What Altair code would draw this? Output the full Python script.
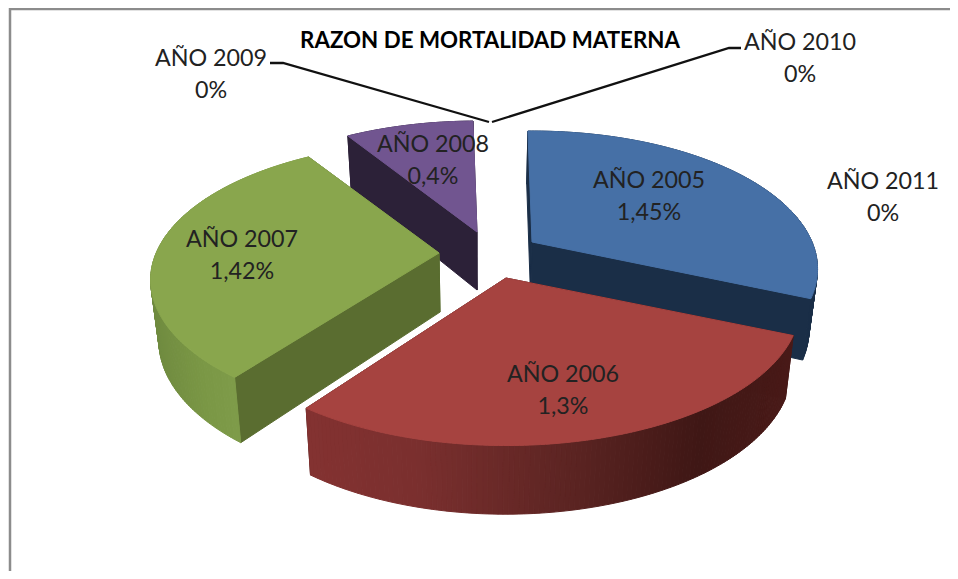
import math
import altair as alt
import pandas as pd

# ---- chart values -------------------------------------------------
years = ["AÑO 2005", "AÑO 2006", "AÑO 2007", "AÑO 2008", "AÑO 2009", "AÑO 2010", "AÑO 2011"]
values = [1.45, 1.3, 1.42, 0.4, 0, 0, 0]
value_labels = ["1,45%", "1,3%", "1,42%", "0,4%", "0%", "0%", "0%"]
title_text = "RAZON DE MORTALIDAD MATERNA"

# ---- layout and style (page pixels) -------------------------------
W, H = 942, 563
OFF = 8
apexes = {0: (532, 242), 1: (506, 278), 2: (439, 253), 3: (477, 232)}
scale_x = {0: 1.0, 1: 1.03, 2: 1.01, 3: 1.0}
scale_y = {0: 1.0, 1: 1.015, 2: 1.0, 3: 1.0}
edge_shift = {0: (0, 0), 1: (0, 0), 2: (2, 0), 3: (0, 0)}
top_col = {0: "#4670a6", 1: "#a64340", 2: "#89a64d", 3: "#715590"}
wall_col = {0: "#1a2e47", 1: "#471a18", 2: "#5a6d30", 3: "#2c2138"}
rim_stops = {
    0: [(700, "#1a2e47"), (830, "#1a2e47")],
    1: [(300, "#843231"), (420, "#7a2f2e"), (560, "#5e2523"), (700, "#3f1715"), (800, "#4a1a18")],
    2: [(150, "#6f8a3f"), (200, "#7a9745"), (240, "#7f9c4a")],
    3: [(340, "#2c2138"), (480, "#2c2138")],
}
label_pos = [(649, 181), (563, 375), (242, 240), (433, 145), (211, 59), (800, 43), (883, 182)]
LINE_GAP = 32
RX, RA, K = 280, 132.7, 0.196
VX, M = 480, 0.975
START = -1.0


def top_point(i, deg):
    ax, ay = apexes[i]
    t = math.radians(deg)
    X, Y = math.sin(t), -math.cos(t)
    s = 1 / (1 - K * Y)
    return (ax + RX * scale_x[i] * X * s, ay + RA * scale_y[i] * Y * s)


def lower(p):
    d = 58 + (p[1] - 232) * 0.05
    return (VX + (p[0] - VX) * M, p[1] + d)


def mix(stops, x):
    def rgb(c):
        return [int(c[j:j + 2], 16) for j in (1, 3, 5)]
    if x <= stops[0][0]:
        return stops[0][1]
    for (x0, c0), (x1, c1) in zip(stops, stops[1:]):
        if x <= x1:
            f = (x - x0) / (x1 - x0)
            a, b = rgb(c0), rgb(c1)
            return "#%02x%02x%02x" % tuple(round(u + (v - u) * f) for u, v in zip(a, b))
    return stops[-1][1]


def feature(points, fill):
    pts = [[p[0] - OFF, p[1] - OFF] for p in points]
    pts.append(pts[0])
    return {"type": "Feature", "properties": {"fill": fill},
            "geometry": {"type": "Polygon", "coordinates": [pts]}}


total = sum(values)
starts, a = {}, START
for i, v in enumerate(values):
    starts[i] = (a, a + 360 * v / total)
    a += 360 * v / total

features = []
for i in (3, 0, 2, 1):
    a0, a1 = starts[i]
    a0 += edge_shift[i][0]
    a1 += edge_shift[i][1]
    n = max(2, int((a1 - a0) * 1.2))
    angs = [a0 + (a1 - a0) * j / n for j in range(n + 1)]
    rim = [top_point(i, d) for d in angs]
    apex = apexes[i]
    walls = []
    walls.append((apex[1] + rim[0][1], feature([apex, rim[0], lower(rim[0]), lower(apex)], wall_col[i])))
    walls.append((apex[1] + rim[-1][1], feature([apex, rim[-1], lower(rim[-1]), lower(apex)], wall_col[i])))
    for p, q in zip(rim, rim[1:]):
        mx = (p[0] + q[0]) / 2
        walls.append((p[1] + q[1], feature([p, q, lower(q), lower(p)], mix(rim_stops[i], mx))))
    walls.sort(key=lambda w: w[0])
    features += [w[1] for w in walls]
    features.append(feature([apex] + rim, top_col[i]))

pie = alt.Chart(alt.InlineData(
    values={"type": "FeatureCollection", "features": features},
    format=alt.DataFormat(property="features", type="json"),
)).mark_geoshape(strokeWidth=1).encode(
    fill=alt.Fill("properties.fill:N", scale=None),
    stroke=alt.Stroke("properties.fill:N", scale=None),
).project(type="identity", scale=1, translate=[0, 0])

# leader lines and frame
lines = pd.DataFrame([
    dict(k="a", o=0, x=270, y=63), dict(k="a", o=1, x=283, y=63), dict(k="a", o=2, x=489, y=122),
    dict(k="b", o=0, x=741, y=48), dict(k="b", o=1, x=729, y=48), dict(k="b", o=2, x=492, y=122),
])
lines["x"] -= OFF
lines["y"] -= OFF
leader = alt.Chart(lines).mark_line(color="#111111", strokeWidth=2.3).encode(
    x=alt.X("x:Q", scale=None), y=alt.Y("y:Q", scale=None), detail="k:N", order="o:Q")

frame_df = pd.DataFrame(dict(o=[0, 1, 2], x=[958, 10, 10], y=[9, 9, 579]))
frame_df["x"] -= OFF
frame_df["y"] -= OFF
frame = alt.Chart(frame_df).mark_line(color="#8c8c8c", strokeWidth=2.5).encode(
    x=alt.X("x:Q", scale=None), y=alt.Y("y:Q", scale=None), order="o:Q")

rows = []
for name, lab, (x, y) in zip(years, value_labels, label_pos):
    rows.append(dict(t=name, x=x - OFF, y=y - OFF))
    rows.append(dict(t=lab, x=x - OFF, y=y + LINE_GAP - OFF))
labels = alt.Chart(pd.DataFrame(rows)).mark_text(
    font="Lato", fontSize=23.3, color="#222222", align="center", baseline="middle"
).encode(x=alt.X("x:Q", scale=None), y=alt.Y("y:Q", scale=None), text="t:N")

title = alt.Chart(pd.DataFrame([dict(t=title_text, x=490 - OFF, y=41 - OFF)])).mark_text(
    font="Lato", fontSize=22.3, fontWeight="bold", color="#000000", align="center", baseline="middle"
).encode(x=alt.X("x:Q", scale=None), y=alt.Y("y:Q", scale=None), text="t:N")

chart = alt.layer(frame, pie, leader, labels, title).properties(
    width=W, height=H, padding=0, autosize=alt.AutoSizeParams(type="none"), background="white"
).configure_view(stroke=None)

chart.save("out.html", embed_options={"renderer": "svg", "actions": False})
